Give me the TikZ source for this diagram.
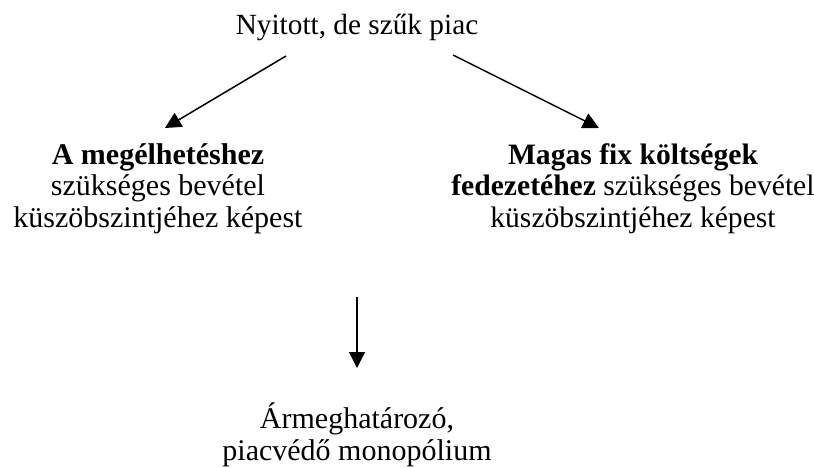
\documentclass[tikz,border=0pt]{standalone}
\usepackage{fontspec}
\setmainfont{Liberation Serif}
\usetikzlibrary{arrows.meta}
\begin{document}
\begin{tikzpicture}[x=1pt,y=-1pt,
  txt/.style={align=center,inner sep=0pt,anchor=base,font=\fontsize{30}{31.5}\selectfont},
  arr/.style={line width=1.5pt,-{Triangle[length=16pt,width=16pt]}}]
  \useasboundingbox (0,0) rectangle (814,468);
  % multi-line nodes sit on the baseline of their last line
  \node[txt,font=\fontsize{29.3}{31.5}\selectfont] (top) at (357,35) {Nyitott, de szűk piac};
  \node[txt] (left) at (158,227) {\textbf{A megélhetéshez}\\szükséges bevétel\\küszöbszintjéhez képest};
  \node[txt,font=\fontsize{29.6}{31.5}\selectfont] (right) at (633,227) {\textbf{Magas fix költségek}\\\textbf{fedezetéhez} szükséges bevétel\\küszöbszintjéhez képest};
  \node[txt] (bottom) at (357,460) {Ármeghatározó,\\piacvédő monopólium};
  \coordinate (tl) at (286,56);
  \coordinate (tlend) at (165,128);
  \coordinate (tr) at (453,55);
  \coordinate (trend) at (599,128);
  \coordinate (mid) at (357,297);
  \coordinate (midend) at (357,368);
  \draw[arr] (tl) -- (tlend);
  \draw[arr] (tr) -- (trend);
  \draw[arr] (mid) -- (midend);
\end{tikzpicture}
\end{document}
